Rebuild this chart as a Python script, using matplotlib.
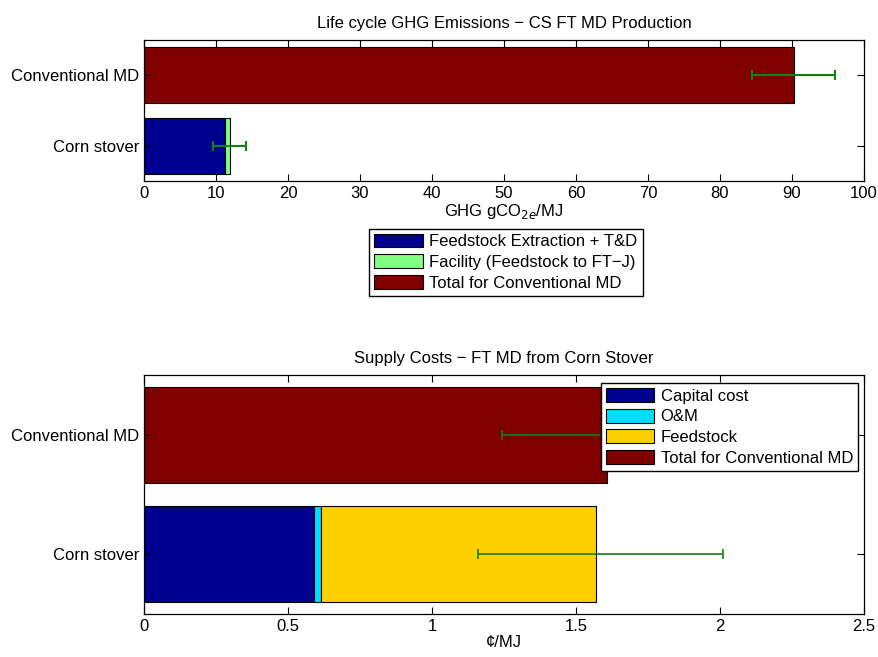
"""Stacked horizontal bars: GHG emissions and supply costs for corn stover FT MD."""

import matplotlib

matplotlib.use("Agg")
import matplotlib.pyplot as plt
from matplotlib.patches import Patch

plt.rcParams["font.family"] = ["Liberation Sans", "DejaVu Sans"]
plt.rcParams["font.size"] = 12
plt.rcParams["axes.titlesize"] = 12

categories = ["Corn stover", "Conventional MD"]

# GHG emissions, gCO2e/MJ
ghg_feedstock = [11.3, 0.0]
ghg_facility = [0.7, 0.0]
ghg_conventional = [0.0, 90.3]
ghg_err_center = [11.9, 90.2]
ghg_err_low = [9.6, 84.4]
ghg_err_high = [14.2, 96.0]

# Supply costs, cents/MJ
cost_capital = [0.59, 0.0]
cost_om = [0.026, 0.0]
cost_feedstock = [0.953, 0.0]
cost_conventional = [0.0, 1.608]
cost_err_center = [1.585, 1.608]
cost_err_low = [1.159, 1.243]
cost_err_high = [2.011, 1.973]

DARK_BLUE = "#00008f"
LIGHT_GREEN = "#80ff80"
DARK_RED = "#800000"
CYAN = "#00ddff"
YELLOW = "#ffd000"
ERR_GREEN = "#108010"

LEGEND_STYLE = dict(fancybox=False, edgecolor="black", framealpha=1, borderaxespad=0,
                    handlelength=2.9, handleheight=0.9, labelspacing=0.3, borderpad=0.3,
                    handletextpad=0.4)


def style_axis(axis):
    axis.tick_params(direction="in", top=True, right=True, length=5, width=0.8)
    axis.set_ylim(-0.5, 1.5)
    axis.set_yticks(range(len(categories)))
    axis.set_yticklabels(categories)
    for spine in axis.spines.values():
        spine.set_linewidth(0.9)


def stacked(axis, layers):
    left = [0.0] * len(categories)
    handles = []
    for values, color, label in layers:
        bars = axis.barh(range(len(categories)), values, left=left, height=0.8,
                         color=color, edgecolor="black", linewidth=0.8)
        # hide empty segments so they leave no outline
        for bar, value in zip(bars, values):
            if value == 0:
                bar.set_visible(False)
        handles.append(Patch(facecolor=color, edgecolor="black", linewidth=0.8, label=label))
        left = [a + b for a, b in zip(left, values)]
    return handles


def error_bars(axis, center, low, high, width):
    xerr = [[c - lo for c, lo in zip(center, low)], [hi - c for c, hi in zip(center, high)]]
    axis.errorbar(center, range(len(categories)), xerr=xerr, fmt="none",
                  ecolor=ERR_GREEN, elinewidth=width, capsize=3.5, capthick=width, zorder=3)


figure = plt.figure(figsize=(8.79, 6.57), dpi=100)

top = figure.add_axes([0.1638, 0.7245, 0.819, 0.2146])
handles_top = stacked(top, [
    (ghg_feedstock, DARK_BLUE, "Feedstock Extraction + T&D"),
    (ghg_facility, LIGHT_GREEN, "Facility (Feedstock to FT\u2212J)"),
    (ghg_conventional, DARK_RED, "Total for Conventional MD"),
])
error_bars(top, ghg_err_center, ghg_err_low, ghg_err_high, 1.5)
style_axis(top)
top.set_xlim(0, 100)
top.set_xticks(range(0, 101, 10))
top.set_title("Life cycle GHG Emissions \u2212 CS FT MD Production", pad=9)
top.set_xlabel("GHG gCO$_{2e}$/MJ", labelpad=1)
figure.legend(handles=handles_top, loc="upper center", bbox_to_anchor=(0.5756, 0.652),
              **LEGEND_STYLE)

bottom = figure.add_axes([0.1638, 0.0654, 0.819, 0.3638])
handles_bottom = stacked(bottom, [
    (cost_capital, DARK_BLUE, "Capital cost"),
    (cost_om, CYAN, "O&M"),
    (cost_feedstock, YELLOW, "Feedstock"),
    (cost_conventional, DARK_RED, "Total for Conventional MD"),
])
error_bars(bottom, cost_err_center, cost_err_low, cost_err_high, 1.2)
style_axis(bottom)
bottom.set_xlim(0, 2.5)
bottom.set_xticks([0, 0.5, 1, 1.5, 2, 2.5])
bottom.set_xticklabels(["0", "0.5", "1", "1.5", "2", "2.5"])
bottom.set_title("Supply Costs \u2212 FT MD from Corn Stover", pad=9)
bottom.set_xlabel("\u00a2/MJ", labelpad=1)
legend = bottom.legend(handles=handles_bottom, loc="upper right",
                       bbox_to_anchor=(0.9917, 0.9665), **LEGEND_STYLE)
legend.set_zorder(5)

figure.savefig("out.png", dpi=100)
plt.close(figure)
